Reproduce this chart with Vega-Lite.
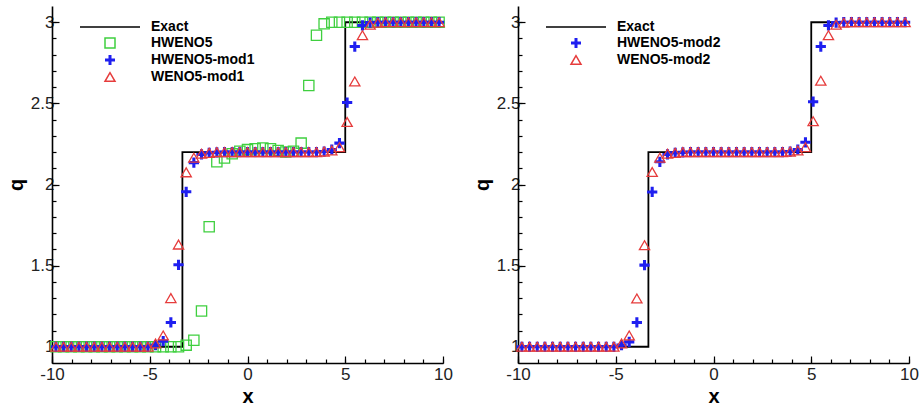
{
"$schema":"https://vega.github.io/schema/vega-lite/v6.json",
"padding":{"left":6,"top":6,"right":0,"bottom":0},
"config":{
"view":{"stroke":null},
"font":"Liberation Sans",
"axis":{"grid":false,"domainColor":"#000","domainWidth":1.6,"tickColor":"#000","tickWidth":1.2,"labelFont":"Liberation Sans","labelFontSize":17,"labelColor":"#222","titleFont":"Liberation Sans","titleFontSize":20,"titleFontWeight":"bold","titleColor":"#000","labelFlush":false,"labelOverlap":false},
"legend":{"orient":"none","legendX":51,"legendY":14,"labelFont":"Liberation Sans","labelFontSize":14,"labelFontWeight":"bold","labelColor":"#000","symbolSize":100,"symbolStrokeWidth":1.5,"rowPadding":1,"padding":0,"labelOffset":34,"labelBaseline":"middle"}
},
"datasets":{"d":[
{"panel":"L","series":"Exact","x":-10,"q":1,"i":0},{"panel":"L","series":"Exact","x":-3.33,"q":1,"i":1},{"panel":"L","series":"Exact","x":-3.33,"q":2.2,"i":2},{"panel":"L","series":"Exact","x":5,"q":2.2,"i":3},{"panel":"L","series":"Exact","x":5,"q":3,"i":4},{"panel":"L","series":"Exact","x":10,"q":3,"i":5},
{"panel":"R","series":"Exact","x":-10,"q":1,"i":0},{"panel":"R","series":"Exact","x":-3.33,"q":1,"i":1},{"panel":"R","series":"Exact","x":-3.33,"q":2.2,"i":2},{"panel":"R","series":"Exact","x":5,"q":2.2,"i":3},{"panel":"R","series":"Exact","x":5,"q":3,"i":4},{"panel":"R","series":"Exact","x":10,"q":3,"i":5},
{"panel":"L","series":"HWENO5","x":-9.8,"q":1},{"panel":"L","series":"HWENO5","x":-9.408,"q":1},{"panel":"L","series":"HWENO5","x":-9.016,"q":1},{"panel":"L","series":"HWENO5","x":-8.624,"q":1},{"panel":"L","series":"HWENO5","x":-8.232,"q":1},{"panel":"L","series":"HWENO5","x":-7.84,"q":1},{"panel":"L","series":"HWENO5","x":-7.448,"q":1},{"panel":"L","series":"HWENO5","x":-7.056,"q":1},{"panel":"L","series":"HWENO5","x":-6.664,"q":1},{"panel":"L","series":"HWENO5","x":-6.272,"q":1},{"panel":"L","series":"HWENO5","x":-5.88,"q":1},{"panel":"L","series":"HWENO5","x":-5.488,"q":1},{"panel":"L","series":"HWENO5","x":-5.096,"q":1},{"panel":"L","series":"HWENO5","x":-4.704,"q":1},{"panel":"L","series":"HWENO5","x":-4.312,"q":1},{"panel":"L","series":"HWENO5","x":-3.92,"q":1},{"panel":"L","series":"HWENO5","x":-3.528,"q":1},{"panel":"L","series":"HWENO5","x":-3.136,"q":1.01},{"panel":"L","series":"HWENO5","x":-2.744,"q":1.04},{"panel":"L","series":"HWENO5","x":-2.352,"q":1.22},{"panel":"L","series":"HWENO5","x":-1.96,"q":1.74},{"panel":"L","series":"HWENO5","x":-1.568,"q":2.14},{"panel":"L","series":"HWENO5","x":-1.176,"q":2.163},{"panel":"L","series":"HWENO5","x":-0.784,"q":2.19},{"panel":"L","series":"HWENO5","x":-0.392,"q":2.205},{"panel":"L","series":"HWENO5","x":0,"q":2.215},{"panel":"L","series":"HWENO5","x":0.392,"q":2.22},{"panel":"L","series":"HWENO5","x":0.784,"q":2.225},{"panel":"L","series":"HWENO5","x":1.176,"q":2.22},{"panel":"L","series":"HWENO5","x":1.568,"q":2.21},{"panel":"L","series":"HWENO5","x":1.96,"q":2.2},{"panel":"L","series":"HWENO5","x":2.352,"q":2.205},{"panel":"L","series":"HWENO5","x":2.744,"q":2.255},{"panel":"L","series":"HWENO5","x":3.136,"q":2.61},{"panel":"L","series":"HWENO5","x":3.528,"q":2.92},{"panel":"L","series":"HWENO5","x":3.92,"q":2.99},{"panel":"L","series":"HWENO5","x":4.312,"q":3},{"panel":"L","series":"HWENO5","x":4.704,"q":3},{"panel":"L","series":"HWENO5","x":5.096,"q":3},{"panel":"L","series":"HWENO5","x":5.488,"q":3},{"panel":"L","series":"HWENO5","x":5.88,"q":3},{"panel":"L","series":"HWENO5","x":6.272,"q":3},{"panel":"L","series":"HWENO5","x":6.664,"q":3},{"panel":"L","series":"HWENO5","x":7.056,"q":3},{"panel":"L","series":"HWENO5","x":7.448,"q":3},{"panel":"L","series":"HWENO5","x":7.84,"q":3},{"panel":"L","series":"HWENO5","x":8.232,"q":3},{"panel":"L","series":"HWENO5","x":8.624,"q":3},{"panel":"L","series":"HWENO5","x":9.016,"q":3},{"panel":"L","series":"HWENO5","x":9.408,"q":3},{"panel":"L","series":"HWENO5","x":9.8,"q":3},
{"panel":"L","series":"HWENO5-mod1","x":-9.8,"q":1},{"panel":"L","series":"HWENO5-mod1","x":-9.408,"q":1},{"panel":"L","series":"HWENO5-mod1","x":-9.016,"q":1},{"panel":"L","series":"HWENO5-mod1","x":-8.624,"q":1},{"panel":"L","series":"HWENO5-mod1","x":-8.232,"q":1},{"panel":"L","series":"HWENO5-mod1","x":-7.84,"q":1},{"panel":"L","series":"HWENO5-mod1","x":-7.448,"q":1},{"panel":"L","series":"HWENO5-mod1","x":-7.056,"q":1},{"panel":"L","series":"HWENO5-mod1","x":-6.664,"q":1},{"panel":"L","series":"HWENO5-mod1","x":-6.272,"q":1},{"panel":"L","series":"HWENO5-mod1","x":-5.88,"q":1},{"panel":"L","series":"HWENO5-mod1","x":-5.488,"q":1},{"panel":"L","series":"HWENO5-mod1","x":-5.096,"q":1},{"panel":"L","series":"HWENO5-mod1","x":-4.704,"q":1.01},{"panel":"L","series":"HWENO5-mod1","x":-4.312,"q":1.035},{"panel":"L","series":"HWENO5-mod1","x":-3.92,"q":1.15},{"panel":"L","series":"HWENO5-mod1","x":-3.528,"q":1.505},{"panel":"L","series":"HWENO5-mod1","x":-3.136,"q":1.955},{"panel":"L","series":"HWENO5-mod1","x":-2.744,"q":2.135},{"panel":"L","series":"HWENO5-mod1","x":-2.352,"q":2.185},{"panel":"L","series":"HWENO5-mod1","x":-1.96,"q":2.195},{"panel":"L","series":"HWENO5-mod1","x":-1.568,"q":2.198},{"panel":"L","series":"HWENO5-mod1","x":-1.176,"q":2.2},{"panel":"L","series":"HWENO5-mod1","x":-0.784,"q":2.2},{"panel":"L","series":"HWENO5-mod1","x":-0.392,"q":2.2},{"panel":"L","series":"HWENO5-mod1","x":0,"q":2.2},{"panel":"L","series":"HWENO5-mod1","x":0.392,"q":2.2},{"panel":"L","series":"HWENO5-mod1","x":0.784,"q":2.2},{"panel":"L","series":"HWENO5-mod1","x":1.176,"q":2.2},{"panel":"L","series":"HWENO5-mod1","x":1.568,"q":2.2},{"panel":"L","series":"HWENO5-mod1","x":1.96,"q":2.2},{"panel":"L","series":"HWENO5-mod1","x":2.352,"q":2.2},{"panel":"L","series":"HWENO5-mod1","x":2.744,"q":2.2},{"panel":"L","series":"HWENO5-mod1","x":3.136,"q":2.2},{"panel":"L","series":"HWENO5-mod1","x":3.528,"q":2.2},{"panel":"L","series":"HWENO5-mod1","x":3.92,"q":2.203},{"panel":"L","series":"HWENO5-mod1","x":4.312,"q":2.215},{"panel":"L","series":"HWENO5-mod1","x":4.704,"q":2.255},{"panel":"L","series":"HWENO5-mod1","x":5.096,"q":2.505},{"panel":"L","series":"HWENO5-mod1","x":5.488,"q":2.85},{"panel":"L","series":"HWENO5-mod1","x":5.88,"q":2.98},{"panel":"L","series":"HWENO5-mod1","x":6.272,"q":2.998},{"panel":"L","series":"HWENO5-mod1","x":6.664,"q":3},{"panel":"L","series":"HWENO5-mod1","x":7.056,"q":3},{"panel":"L","series":"HWENO5-mod1","x":7.448,"q":3},{"panel":"L","series":"HWENO5-mod1","x":7.84,"q":3},{"panel":"L","series":"HWENO5-mod1","x":8.232,"q":3},{"panel":"L","series":"HWENO5-mod1","x":8.624,"q":3},{"panel":"L","series":"HWENO5-mod1","x":9.016,"q":3},{"panel":"L","series":"HWENO5-mod1","x":9.408,"q":3},{"panel":"L","series":"HWENO5-mod1","x":9.8,"q":3},
{"panel":"L","series":"WENO5-mod1","x":-9.8,"q":1},{"panel":"L","series":"WENO5-mod1","x":-9.408,"q":1},{"panel":"L","series":"WENO5-mod1","x":-9.016,"q":1},{"panel":"L","series":"WENO5-mod1","x":-8.624,"q":1},{"panel":"L","series":"WENO5-mod1","x":-8.232,"q":1},{"panel":"L","series":"WENO5-mod1","x":-7.84,"q":1},{"panel":"L","series":"WENO5-mod1","x":-7.448,"q":1},{"panel":"L","series":"WENO5-mod1","x":-7.056,"q":1},{"panel":"L","series":"WENO5-mod1","x":-6.664,"q":1},{"panel":"L","series":"WENO5-mod1","x":-6.272,"q":1},{"panel":"L","series":"WENO5-mod1","x":-5.88,"q":1},{"panel":"L","series":"WENO5-mod1","x":-5.488,"q":1},{"panel":"L","series":"WENO5-mod1","x":-5.096,"q":1},{"panel":"L","series":"WENO5-mod1","x":-4.704,"q":1.02},{"panel":"L","series":"WENO5-mod1","x":-4.312,"q":1.07},{"panel":"L","series":"WENO5-mod1","x":-3.92,"q":1.3},{"panel":"L","series":"WENO5-mod1","x":-3.528,"q":1.63},{"panel":"L","series":"WENO5-mod1","x":-3.136,"q":2.075},{"panel":"L","series":"WENO5-mod1","x":-2.744,"q":2.165},{"panel":"L","series":"WENO5-mod1","x":-2.352,"q":2.19},{"panel":"L","series":"WENO5-mod1","x":-1.96,"q":2.195},{"panel":"L","series":"WENO5-mod1","x":-1.568,"q":2.2},{"panel":"L","series":"WENO5-mod1","x":-1.176,"q":2.2},{"panel":"L","series":"WENO5-mod1","x":-0.784,"q":2.2},{"panel":"L","series":"WENO5-mod1","x":-0.392,"q":2.2},{"panel":"L","series":"WENO5-mod1","x":0,"q":2.2},{"panel":"L","series":"WENO5-mod1","x":0.392,"q":2.2},{"panel":"L","series":"WENO5-mod1","x":0.784,"q":2.2},{"panel":"L","series":"WENO5-mod1","x":1.176,"q":2.2},{"panel":"L","series":"WENO5-mod1","x":1.568,"q":2.2},{"panel":"L","series":"WENO5-mod1","x":1.96,"q":2.2},{"panel":"L","series":"WENO5-mod1","x":2.352,"q":2.2},{"panel":"L","series":"WENO5-mod1","x":2.744,"q":2.2},{"panel":"L","series":"WENO5-mod1","x":3.136,"q":2.2},{"panel":"L","series":"WENO5-mod1","x":3.528,"q":2.2},{"panel":"L","series":"WENO5-mod1","x":3.92,"q":2.203},{"panel":"L","series":"WENO5-mod1","x":4.312,"q":2.21},{"panel":"L","series":"WENO5-mod1","x":4.704,"q":2.23},{"panel":"L","series":"WENO5-mod1","x":5.096,"q":2.385},{"panel":"L","series":"WENO5-mod1","x":5.488,"q":2.635},{"panel":"L","series":"WENO5-mod1","x":5.88,"q":2.92},{"panel":"L","series":"WENO5-mod1","x":6.272,"q":2.985},{"panel":"L","series":"WENO5-mod1","x":6.664,"q":2.997},{"panel":"L","series":"WENO5-mod1","x":7.056,"q":3},{"panel":"L","series":"WENO5-mod1","x":7.448,"q":3},{"panel":"L","series":"WENO5-mod1","x":7.84,"q":3},{"panel":"L","series":"WENO5-mod1","x":8.232,"q":3},{"panel":"L","series":"WENO5-mod1","x":8.624,"q":3},{"panel":"L","series":"WENO5-mod1","x":9.016,"q":3},{"panel":"L","series":"WENO5-mod1","x":9.408,"q":3},{"panel":"L","series":"WENO5-mod1","x":9.8,"q":3},
{"panel":"R","series":"HWENO5-mod2","x":-9.8,"q":1},{"panel":"R","series":"HWENO5-mod2","x":-9.408,"q":1},{"panel":"R","series":"HWENO5-mod2","x":-9.016,"q":1},{"panel":"R","series":"HWENO5-mod2","x":-8.624,"q":1},{"panel":"R","series":"HWENO5-mod2","x":-8.232,"q":1},{"panel":"R","series":"HWENO5-mod2","x":-7.84,"q":1},{"panel":"R","series":"HWENO5-mod2","x":-7.448,"q":1},{"panel":"R","series":"HWENO5-mod2","x":-7.056,"q":1},{"panel":"R","series":"HWENO5-mod2","x":-6.664,"q":1},{"panel":"R","series":"HWENO5-mod2","x":-6.272,"q":1},{"panel":"R","series":"HWENO5-mod2","x":-5.88,"q":1},{"panel":"R","series":"HWENO5-mod2","x":-5.488,"q":1},{"panel":"R","series":"HWENO5-mod2","x":-5.096,"q":1},{"panel":"R","series":"HWENO5-mod2","x":-4.704,"q":1.01},{"panel":"R","series":"HWENO5-mod2","x":-4.312,"q":1.03},{"panel":"R","series":"HWENO5-mod2","x":-3.92,"q":1.15},{"panel":"R","series":"HWENO5-mod2","x":-3.528,"q":1.503},{"panel":"R","series":"HWENO5-mod2","x":-3.136,"q":1.954},{"panel":"R","series":"HWENO5-mod2","x":-2.744,"q":2.14},{"panel":"R","series":"HWENO5-mod2","x":-2.352,"q":2.185},{"panel":"R","series":"HWENO5-mod2","x":-1.96,"q":2.195},{"panel":"R","series":"HWENO5-mod2","x":-1.568,"q":2.198},{"panel":"R","series":"HWENO5-mod2","x":-1.176,"q":2.2},{"panel":"R","series":"HWENO5-mod2","x":-0.784,"q":2.2},{"panel":"R","series":"HWENO5-mod2","x":-0.392,"q":2.2},{"panel":"R","series":"HWENO5-mod2","x":0,"q":2.2},{"panel":"R","series":"HWENO5-mod2","x":0.392,"q":2.2},{"panel":"R","series":"HWENO5-mod2","x":0.784,"q":2.2},{"panel":"R","series":"HWENO5-mod2","x":1.176,"q":2.2},{"panel":"R","series":"HWENO5-mod2","x":1.568,"q":2.2},{"panel":"R","series":"HWENO5-mod2","x":1.96,"q":2.2},{"panel":"R","series":"HWENO5-mod2","x":2.352,"q":2.2},{"panel":"R","series":"HWENO5-mod2","x":2.744,"q":2.2},{"panel":"R","series":"HWENO5-mod2","x":3.136,"q":2.2},{"panel":"R","series":"HWENO5-mod2","x":3.528,"q":2.2},{"panel":"R","series":"HWENO5-mod2","x":3.92,"q":2.203},{"panel":"R","series":"HWENO5-mod2","x":4.312,"q":2.215},{"panel":"R","series":"HWENO5-mod2","x":4.704,"q":2.26},{"panel":"R","series":"HWENO5-mod2","x":5.096,"q":2.51},{"panel":"R","series":"HWENO5-mod2","x":5.488,"q":2.85},{"panel":"R","series":"HWENO5-mod2","x":5.88,"q":2.98},{"panel":"R","series":"HWENO5-mod2","x":6.272,"q":2.998},{"panel":"R","series":"HWENO5-mod2","x":6.664,"q":3},{"panel":"R","series":"HWENO5-mod2","x":7.056,"q":3},{"panel":"R","series":"HWENO5-mod2","x":7.448,"q":3},{"panel":"R","series":"HWENO5-mod2","x":7.84,"q":3},{"panel":"R","series":"HWENO5-mod2","x":8.232,"q":3},{"panel":"R","series":"HWENO5-mod2","x":8.624,"q":3},{"panel":"R","series":"HWENO5-mod2","x":9.016,"q":3},{"panel":"R","series":"HWENO5-mod2","x":9.408,"q":3},{"panel":"R","series":"HWENO5-mod2","x":9.8,"q":3},
{"panel":"R","series":"WENO5-mod2","x":-9.8,"q":1},{"panel":"R","series":"WENO5-mod2","x":-9.408,"q":1},{"panel":"R","series":"WENO5-mod2","x":-9.016,"q":1},{"panel":"R","series":"WENO5-mod2","x":-8.624,"q":1},{"panel":"R","series":"WENO5-mod2","x":-8.232,"q":1},{"panel":"R","series":"WENO5-mod2","x":-7.84,"q":1},{"panel":"R","series":"WENO5-mod2","x":-7.448,"q":1},{"panel":"R","series":"WENO5-mod2","x":-7.056,"q":1},{"panel":"R","series":"WENO5-mod2","x":-6.664,"q":1},{"panel":"R","series":"WENO5-mod2","x":-6.272,"q":1},{"panel":"R","series":"WENO5-mod2","x":-5.88,"q":1},{"panel":"R","series":"WENO5-mod2","x":-5.488,"q":1},{"panel":"R","series":"WENO5-mod2","x":-5.096,"q":1},{"panel":"R","series":"WENO5-mod2","x":-4.704,"q":1.02},{"panel":"R","series":"WENO5-mod2","x":-4.312,"q":1.07},{"panel":"R","series":"WENO5-mod2","x":-3.92,"q":1.298},{"panel":"R","series":"WENO5-mod2","x":-3.528,"q":1.626},{"panel":"R","series":"WENO5-mod2","x":-3.136,"q":2.077},{"panel":"R","series":"WENO5-mod2","x":-2.744,"q":2.165},{"panel":"R","series":"WENO5-mod2","x":-2.352,"q":2.19},{"panel":"R","series":"WENO5-mod2","x":-1.96,"q":2.195},{"panel":"R","series":"WENO5-mod2","x":-1.568,"q":2.2},{"panel":"R","series":"WENO5-mod2","x":-1.176,"q":2.2},{"panel":"R","series":"WENO5-mod2","x":-0.784,"q":2.2},{"panel":"R","series":"WENO5-mod2","x":-0.392,"q":2.2},{"panel":"R","series":"WENO5-mod2","x":0,"q":2.2},{"panel":"R","series":"WENO5-mod2","x":0.392,"q":2.2},{"panel":"R","series":"WENO5-mod2","x":0.784,"q":2.2},{"panel":"R","series":"WENO5-mod2","x":1.176,"q":2.2},{"panel":"R","series":"WENO5-mod2","x":1.568,"q":2.2},{"panel":"R","series":"WENO5-mod2","x":1.96,"q":2.2},{"panel":"R","series":"WENO5-mod2","x":2.352,"q":2.2},{"panel":"R","series":"WENO5-mod2","x":2.744,"q":2.2},{"panel":"R","series":"WENO5-mod2","x":3.136,"q":2.2},{"panel":"R","series":"WENO5-mod2","x":3.528,"q":2.2},{"panel":"R","series":"WENO5-mod2","x":3.92,"q":2.203},{"panel":"R","series":"WENO5-mod2","x":4.312,"q":2.21},{"panel":"R","series":"WENO5-mod2","x":4.704,"q":2.23},{"panel":"R","series":"WENO5-mod2","x":5.096,"q":2.39},{"panel":"R","series":"WENO5-mod2","x":5.488,"q":2.64},{"panel":"R","series":"WENO5-mod2","x":5.88,"q":2.92},{"panel":"R","series":"WENO5-mod2","x":6.272,"q":2.985},{"panel":"R","series":"WENO5-mod2","x":6.664,"q":2.997},{"panel":"R","series":"WENO5-mod2","x":7.056,"q":3},{"panel":"R","series":"WENO5-mod2","x":7.448,"q":3},{"panel":"R","series":"WENO5-mod2","x":7.84,"q":3},{"panel":"R","series":"WENO5-mod2","x":8.232,"q":3},{"panel":"R","series":"WENO5-mod2","x":8.624,"q":3},{"panel":"R","series":"WENO5-mod2","x":9.016,"q":3},{"panel":"R","series":"WENO5-mod2","x":9.408,"q":3},{"panel":"R","series":"WENO5-mod2","x":9.8,"q":3}
]},
"spacing":19,
"resolve":{"scale":{"shape":"independent","stroke":"independent","fill":"independent"},"legend":{"shape":"independent","stroke":"independent","fill":"independent"}},
"hconcat":[
{"width":391,"height":357,"data":{"name":"d"},
"resolve":{"axis":{"x":"independent","y":"independent"}},
"layer":[
{"transform":[{"filter":"datum.panel === 'L' && datum.series === 'Exact'"}],
"mark":{"type":"line","color":"#000","strokeWidth":1.8},
"encoding":{
"x":{"field":"x","type":"quantitative","scale":{"domain":[-10,10],"nice":false,"zero":false},"axis":{"orient":"bottom","values":[-10,-9,-8,-7,-6,-5,-4,-3,-2,-1,0,1,2,3,4,5,6,7,8,9,10],"tickSize":-4,"labels":false,"domain":false,"title":null}},
"y":{"field":"q","type":"quantitative","scale":{"domain":[0.9,3.1],"nice":false,"zero":false},"axis":{"orient":"left","values":[1,1.1,1.2,1.3,1.4,1.5,1.6,1.7,1.8,1.9,2,2.1,2.2,2.3,2.4,2.5,2.6,2.7,2.8,2.9,3],"tickSize":-4,"labels":false,"domain":false,"title":null}},
"order":{"field":"i","type":"quantitative"}}},
{"transform":[{"filter":"datum.panel === 'L' && datum.series !== 'Exact'"}],
"mark":{"type":"point","size":105,"strokeWidth":1.3,"opacity":1},
"encoding":{
"x":{"field":"x","type":"quantitative","scale":{"domain":[-10,10],"nice":false,"zero":false},"axis":{"orient":"bottom","values":[-10,-5,0,5,10],"tickSize":-7,"labelPadding":10,"labelExpr":"'' + datum.value","title":"x","titlePadding":4}},
"y":{"field":"q","type":"quantitative","scale":{"domain":[0.9,3.1],"nice":false,"zero":false},"axis":{"orient":"left","values":[1,1.5,2,2.5,3],"tickSize":-7,"labelPadding":5,"labelExpr":"'' + datum.value","title":"q","titlePadding":4}},
"shape":{"field":"series","type":"nominal","scale":{"domain":["Exact","HWENO5","HWENO5-mod1","WENO5-mod1"],"range":["M-6,0H6","square","M-1,-0.3H1V0.3H-1ZM-0.3,-1H0.3V1H-0.3Z","triangle-up"]},"legend":{"title":null}},
"stroke":{"field":"series","type":"nominal","scale":{"domain":["Exact","HWENO5","HWENO5-mod1","WENO5-mod1"],"range":["#000000","#3fcf3f","transparent","#e63c3c"]},"legend":{"title":null}},
"fill":{"field":"series","type":"nominal","scale":{"domain":["Exact","HWENO5","HWENO5-mod1","WENO5-mod1"],"range":["transparent","transparent","#1f1ff0","transparent"]},"legend":{"title":null}}}}
]},
{"width":391,"height":357,"data":{"name":"d"},
"resolve":{"axis":{"x":"independent","y":"independent"}},
"layer":[
{"transform":[{"filter":"datum.panel === 'R' && datum.series === 'Exact'"}],
"mark":{"type":"line","color":"#000","strokeWidth":1.8},
"encoding":{
"x":{"field":"x","type":"quantitative","scale":{"domain":[-10,10],"nice":false,"zero":false},"axis":{"orient":"bottom","values":[-10,-9,-8,-7,-6,-5,-4,-3,-2,-1,0,1,2,3,4,5,6,7,8,9,10],"tickSize":-4,"labels":false,"domain":false,"title":null}},
"y":{"field":"q","type":"quantitative","scale":{"domain":[0.9,3.1],"nice":false,"zero":false},"axis":{"orient":"left","values":[1,1.1,1.2,1.3,1.4,1.5,1.6,1.7,1.8,1.9,2,2.1,2.2,2.3,2.4,2.5,2.6,2.7,2.8,2.9,3],"tickSize":-4,"labels":false,"domain":false,"title":null}},
"order":{"field":"i","type":"quantitative"}}},
{"transform":[{"filter":"datum.panel === 'R' && datum.series !== 'Exact'"}],
"mark":{"type":"point","size":105,"strokeWidth":1.3,"opacity":1},
"encoding":{
"x":{"field":"x","type":"quantitative","scale":{"domain":[-10,10],"nice":false,"zero":false},"axis":{"orient":"bottom","values":[-10,-5,0,5,10],"tickSize":-7,"labelPadding":10,"labelExpr":"'' + datum.value","title":"x","titlePadding":4}},
"y":{"field":"q","type":"quantitative","scale":{"domain":[0.9,3.1],"nice":false,"zero":false},"axis":{"orient":"left","values":[1,1.5,2,2.5,3],"tickSize":-7,"labelPadding":5,"labelExpr":"'' + datum.value","title":"q","titlePadding":4}},
"shape":{"field":"series","type":"nominal","scale":{"domain":["Exact","HWENO5-mod2","WENO5-mod2"],"range":["M-6,0H6","M-1,-0.3H1V0.3H-1ZM-0.3,-1H0.3V1H-0.3Z","triangle-up"]},"legend":{"title":null}},
"stroke":{"field":"series","type":"nominal","scale":{"domain":["Exact","HWENO5-mod2","WENO5-mod2"],"range":["#000000","transparent","#e63c3c"]},"legend":{"title":null}},
"fill":{"field":"series","type":"nominal","scale":{"domain":["Exact","HWENO5-mod2","WENO5-mod2"],"range":["transparent","#1f1ff0","transparent"]},"legend":{"title":null}}}}
]}
]
}
